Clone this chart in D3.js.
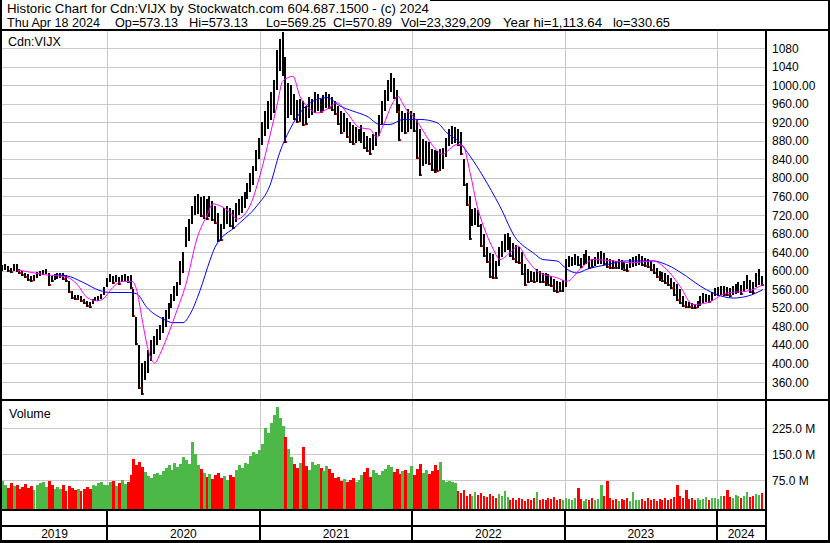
<!DOCTYPE html>
<html><head><meta charset="utf-8">
<script src="https://cdn.jsdelivr.net/npm/d3@7"></script>
<style>
html,body{margin:0;padding:0;background:#fff;}
svg{display:block;font-family:"Liberation Sans",Arial,sans-serif;}
</style></head><body>
<svg id="c" width="830" height="543"></svg>
<script>
// ---------- DATA (weekly bars; week 0 starts 2019-04-22) ----------
const firstWeek = "2019-04-22";
const hi2019 = [612,614,610,606,615,614,604,600,596,592,588,590,598,600,602,604,596,588,592,594,596,595,590,578,556,548,548,545,540,535,532,540,544,545,550,565];
const lo2019 = [600,602,598,595,600,598,592,588,585,578,575,578,585,588,590,592,568,575,580,582,584,580,575,552,540,536,536,532,528,522,520,528,534,535,538,548];
const hi2020 = [585,592,588,590,586,590,592,588,590,560,500,440,400,406,430,450,460,475,482,500,515,530,550,568,575,620,640,695,712,740,762,765,758,762,755,760,750,740,725,700,735,740,735,730,745,755,760,770,790,810,825,860];
const lo2020 = [565,575,572,576,570,575,578,574,560,500,440,345,331,365,380,405,420,440,450,465,478,495,520,535,545,570,595,650,665,700,720,722,715,712,710,715,708,700,662,665,690,700,695,690,705,720,725,735,755,770,785,815];
const hi2021 = [885,920,945,965,985,1010,1075,1100,1114,1060,1005,1000,980,968,970,965,955,975,970,985,980,970,978,985,980,975,965,955,945,940,930,920,915,910,905,915,900,890,885,895,900,935,965,990,1010,1026,1015,990,960,945,940,948];
const lo2021 = [840,870,890,905,925,940,990,1030,1020,875,930,935,925,918,920,912,915,930,935,940,945,940,945,950,948,945,935,915,895,900,885,875,870,875,880,875,862,855,850,860,868,890,915,945,965,985,970,940,880,900,895,900];
const hi2022 = [945,940,925,905,883,880,878,862,860,858,862,865,885,905,912,910,905,900,840,790,760,732,735,730,700,680,650,639,636,620,650,665,680,682,672,660,655,650,640,615,603,600,598,603,600,596,596,592,588,581,578,575];
const lo2022 = [905,900,840,804,826,830,828,815,811,812,815,820,845,869,872,875,868,850,782,740,667,696,698,695,650,630,617,585,583,581,610,630,640,645,630,622,617,615,590,567,574,575,574,576,574,574,567,568,565,555,552,553];
const hi2023 = [580,625,632,630,635,632,628,636,645,632,625,630,640,642,638,628,625,622,620,625,622,618,615,625,630,632,636,632,628,625,620,615,605,600,598,595,590,585,575,572,560,545,535,532,530,528,535,545,552,550,548,555];
const lo2023 = [553,565,608,610,612,610,606,612,615,603,605,610,614,615,612,605,604,603,603,604,602,600,598,605,608,610,612,610,607,605,600,592,585,578,575,572,566,560,545,535,528,522,520,519,518,518,520,524,530,532,530,535];
const hi2024 = [562,565,568,566,565,562,568,572,575,570,578,590,580,575,595,603,588];
const lo2024 = [545,546,548,546,545,544,548,550,552,548,553,560,552,550,565,570,568];

// weekly volume, millions of shares
const vol2019 = [72,60,52,66,58,62,48,56,64,52,58,45,60,66,70,55,72,60,50,56,48,62,44,58,52,46,50,42,48,55,50,62,58,66,70,60];
const vol2020 = [62,68,72,58,66,74,64,70,90,135,118,128,112,98,86,80,92,96,88,100,110,118,104,125,112,120,140,132,120,184,150,118,108,96,85,92,78,88,95,80,86,76,90,84,105,118,110,125,120,145,157,150];
const vol2021 = [162,180,225,210,240,262,285,255,230,200,165,140,120,110,125,171,115,105,128,118,122,110,100,115,108,95,80,84,72,78,68,74,82,70,76,90,98,110,85,104,95,88,100,108,118,112,98,106,92,100,105,96];
const vol2022 = [115,90,108,121,96,104,92,100,118,105,127,75,70,72,68,65,42,38,45,30,34,28,40,32,38,30,26,34,28,24,36,30,43,26,18,22,16,24,19,15,21,17,23,40,18,20,16,22,19,25,17,21];
const vol2023 = [18,24,20,16,22,53,19,15,21,17,24,18,20,60,28,72,22,16,19,14,21,17,23,15,41,18,16,20,15,22,17,19,14,21,18,24,16,20,26,60,30,22,46,20,24,18,22,16,20,25,18,22];
const vol2024 = [24,20,28,30,46,26,22,32,28,24,30,41,26,30,36,32,37];

// moving averages: [week offset, value]
const maFastWeek = [5,10,15,22,25.5,29,32.3,34.4,37.8,41.2,44.3,46,47.7,49.4,51.2,52.2,53.9,56.3,59.7,63.1,65.2,65.9,70,72,74.4,78.5,80.2,84.7,88.1,91.5,93.9,95.9,99.4,101.8,104.2,107.6,111,114.5,117.9,122.3,125.7,128.1,130.2,133.6,135.3,137,138.4,140.5,142.9,147.3,150.7,153,155.5,157.6,160,162.4,164.6,168,170.2,173.7,176.4,179.5,183.9,189.7,193.2,197.6,202,208.9,215.7,222.6,227.2,231.8,236.3,241.2,248,254.9,260.2];
const maFast = [602,596,591,586,571,542,535,539,564,577,577,557,499,442,406,401,420,456,514,578,635,654,719,744,740,722,711,740,805,890,955,1008,1019,976,955,940,948,962,940,908,905,887,912,962,976,960,945,933,912,869,851,862,872,869,812,740,696,646,624,639,653,624,595,585,577,603,624,621,617,621,603,567,527,531,552,556,570];
const maSlowWeek = [18,22,27.5,33.4,36.8,43.6,46,49.4,54.9,58.3,61.8,64.2,67.6,71,72.7,80.2,87.1,91.5,94.9,98.4,102.8,106.2,111,115.5,119.9,124.7,129.2,132.6,137,142.9,148.7,152.1,156.5,160,164.4,170.2,176,177.8,181.5,184.9,189.7,193.2,196.6,200,206.8,213.6,222.6,227.2,234,238.7,243.1,250,254.9,260.2];
const maSlow = [591,589,575,557,553,553,550,521,496,488,488,506,557,622,650,697,740,783,855,905,948,965,973,955,944,933,915,915,926,926,919,897,876,847,804,739,667,656,639,624,621,603,595,603,613,621,621,613,588,567,552,541,545,559];

// axis labels
const priceTicks = [1080,1040,1000,960,920,880,840,800,760,720,680,640,600,560,520,480,440,400,360];
const priceTickLabels = ["1080","1040","1000.00","960.00","920.00","880.00","840.00","800.00","760.00","720.00","680.00","640.00","600.00","560.00","520.00","480.00","440.00","400.00","360.00"];
const volTicks = [225,150,75];
const volTickLabels = ["225.0 M","150.0 M","75.0 M"];
const years = ["2019","2020","2021","2022","2023","2024"];
const headerLine1 = "Historic Chart for Cdn:VIJX by Stockwatch.com 604.687.1500 - (c) 2024";
const headerFields = ["Thu Apr 18 2024","Op=573.13","Hi=573.13","Lo=569.25","Cl=570.89","Vol=23,329,209","Year hi=1,113.64","lo=330.65"];
const symbolLabel = "Cdn:VIJX";
const volumeLabel = "Volume";

// ---------- BUILD ----------
const hi = [].concat(hi2019,hi2020,hi2021,hi2022,hi2023,hi2024);
const lo = [].concat(lo2019,lo2020,lo2021,lo2022,lo2023,lo2024);
const vol = [].concat(vol2019,vol2020,vol2021,vol2022,vol2023,vol2024);
const t0 = d3.timeParse("%Y-%m-%d")(firstWeek);
const wk = i => new Date(t0.getTime() + i*7*864e5);
const bars = hi.map((h,i)=>({i, hi:h, lo:lo[i], vol:vol[i], d0:wk(i), d1:wk(i+1)}));
bars.forEach((b,i)=>{ const m=(b.hi+b.lo)/2, pm = i? (bars[i-1].hi+bars[i-1].lo)/2 : m; b.up = m>=pm; });

const svg = d3.select("#c");
const L=2, R=765, PT=31, PB=399, VT=401, VB=509;
const x = d3.scaleTime().domain([new Date(2020,0,1), new Date(2024,0,1)]).range([107,717]);
const y = d3.scaleLinear().domain([360,1080]).range([382,48]);
const yv = d3.scaleLinear().domain([0,225]).range([506,428]);
const yearStarts = d3.range(2020,2025).map(yy=>new Date(yy,0,1));

svg.append("rect").attr("width",830).attr("height",543).attr("fill","#fff");

const defs = svg.append("defs");
defs.append("clipPath").attr("id","cp").append("rect").attr("x",L).attr("y",PT).attr("width",R-L).attr("height",PB-PT);
defs.append("clipPath").attr("id","cv").append("rect").attr("x",L).attr("y",VT).attr("width",R-L).attr("height",VB-VT);

const grid = svg.append("g").attr("stroke","#c8c8c8").attr("stroke-width",1).attr("shape-rendering","crispEdges");
grid.selectAll("line.h").data(priceTicks).join("line").attr("x1",L).attr("x2",R).attr("y1",d=>Math.round(y(d))+0.5).attr("y2",d=>Math.round(y(d))+0.5);
grid.selectAll("line.vh").data(volTicks).join("line").attr("class","vh").attr("x1",L).attr("x2",R).attr("y1",d=>Math.round(yv(d))+0.5).attr("y2",d=>Math.round(yv(d))+0.5);
grid.selectAll("line.v").data(yearStarts).join("line").attr("class","v")
  .attr("x1",d=>Math.round(x(d))+0.5).attr("x2",d=>Math.round(x(d))+0.5).attr("y1",PT).attr("y2",PB);
grid.selectAll("line.v2").data(yearStarts).join("line").attr("class","v2")
  .attr("x1",d=>Math.round(x(d))+0.5).attr("x2",d=>Math.round(x(d))+0.5).attr("y1",VT).attr("y2",VB);

// volume bars
const gv = svg.append("g").attr("clip-path","url(#cv)").attr("shape-rendering","crispEdges");
gv.selectAll("rect").data(bars).join("rect")
  .attr("x",d=>Math.round(x(d.d0))).attr("width",d=>d.vol>45?3:2)
  .attr("y",d=>yv(d.vol)).attr("height",d=>VB-yv(d.vol))
  .attr("fill",d=>d.up?"#4cb848":"#ff0000");

// price bars (thin sticks)
const gp = svg.append("g").attr("clip-path","url(#cp)");
const gb = gp.append("g").attr("shape-rendering","crispEdges");
gb.selectAll("rect.b").data(bars).join("rect").attr("class","b")
  .attr("x",d=>Math.round(x(d.d0))).attr("width",2)
  .attr("y",d=>y(d.hi)).attr("height",d=>y(d.lo)-y(d.hi)).attr("fill","#000");
gb.selectAll("rect.t").data(bars.filter(d=>!d.up)).join("rect").attr("class","t")
  .attr("x",d=>Math.round(x(d.d0))+2).attr("width",1)
  .attr("y",d=>Math.round(y(d.lo))-2).attr("height",2).attr("fill","#ff0000");

const line = d3.line().x(d=>x(wk(d[0]+0.5))).y(d=>y(d[1])).curve(d3.curveMonotoneX);
gp.append("path").datum(maSlowWeek.map((w,i)=>[w,maSlow[i]])).attr("d",line).attr("fill","none").attr("stroke","#0000ff").attr("stroke-width",1);
gp.append("path").datum(maFastWeek.map((w,i)=>[w,maFast[i]])).attr("d",line).attr("fill","none").attr("stroke","#ff00ff").attr("stroke-width",1);

// frame
const fr = svg.append("g").attr("fill","#000").attr("shape-rendering","crispEdges");
const box=(x0,y0,w,h)=>fr.append("rect").attr("x",x0).attr("y",y0).attr("width",w).attr("height",h);
box(0,0,2,543);
box(828,0,2,543);
box(430,0,400,1);
box(0,29,830,2);
box(0,399,830,2);
box(765,29,2,514);
box(0,509,767,2);
box(0,525,767,2);
box(0,540,830,3);
yearStarts.forEach(d=>box(Math.round(x(d))-1,509,2,33));

// axis labels
const txt = svg.append("g").attr("fill","#000").attr("font-size","12px");
txt.selectAll("text.p").data(priceTicks).join("text").attr("class","p")
  .attr("x",772).attr("y",d=>y(d)+4.5).text((d,i)=>priceTickLabels[i]);
txt.selectAll("text.v").data(volTicks).join("text").attr("class","v")
  .attr("x",772).attr("y",d=>yv(d)+4.5).text((d,i)=>volTickLabels[i]);
const bounds = [L].concat(yearStarts.map(d=>x(d)), [R]);
txt.selectAll("text.y").data(years).join("text").attr("class","y")
  .attr("x",(d,i)=>(bounds[i]+bounds[i+1])/2).attr("y",538).attr("text-anchor","middle").text(d=>d);
txt.append("text").attr("x",8).attr("y",46).attr("font-size","12.5px").text(symbolLabel);
txt.append("text").attr("x",9).attr("y",418).attr("font-size","12.5px").text(volumeLabel);

// header
const hd = svg.append("g").attr("fill","#000").attr("font-size","13px");
hd.append("text").attr("x",7).attr("y",13).attr("textLength",422).attr("lengthAdjust","spacingAndGlyphs").text(headerLine1);
const hx = [7,115,189,266,333,401,503,613];
const hw = [93,63,59,60,59,90,99,57];
hd.selectAll("text.f").data(headerFields).join("text").attr("class","f")
  .attr("x",(d,i)=>hx[i]).attr("y",27).attr("textLength",(d,i)=>hw[i]).attr("lengthAdjust","spacingAndGlyphs").text(d=>d);
</script>
</body></html>
